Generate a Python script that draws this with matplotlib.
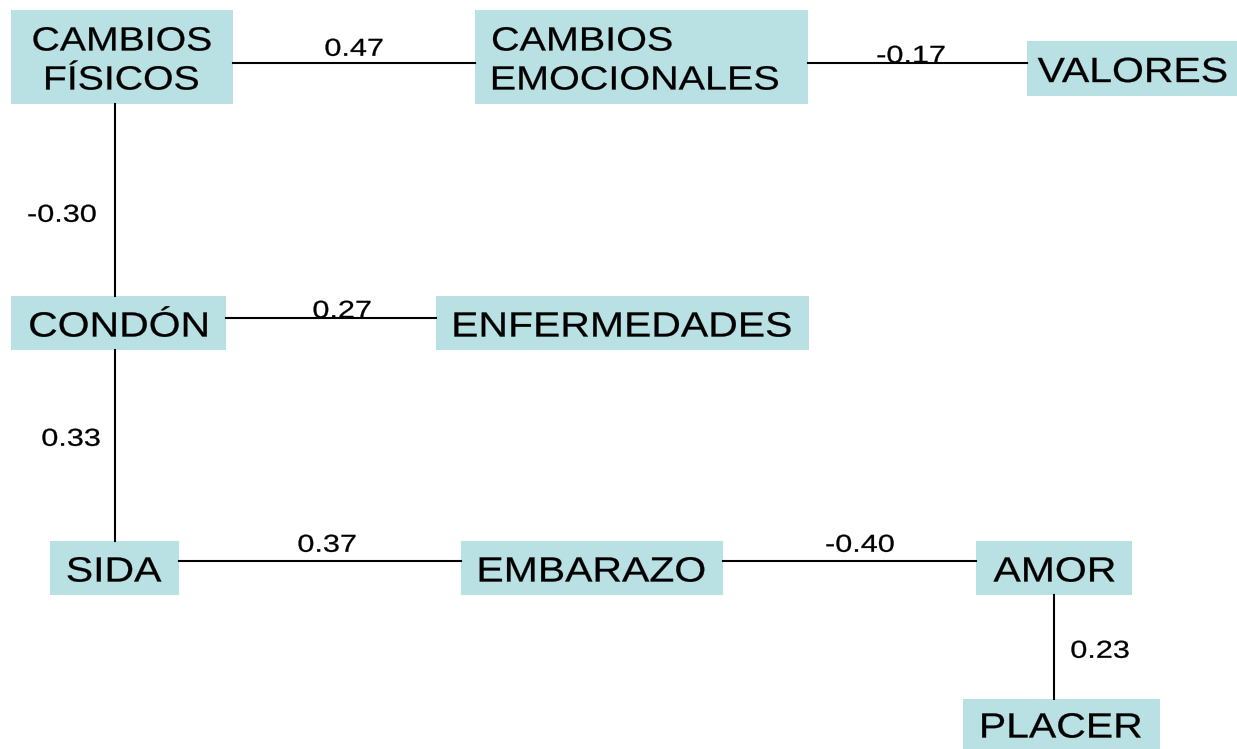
import matplotlib.pyplot as plt
from matplotlib.patches import Rectangle, PathPatch
from matplotlib.textpath import TextPath
from matplotlib.font_manager import FontProperties
from matplotlib.transforms import Affine2D

# nodes: label lines, box (x0, y0, x1, y1) in pixel space, text alignment
node_names = ['CF', 'CE', 'VAL', 'CON', 'ENF', 'SIDA', 'EMB', 'AMOR', 'PLA']
node_labels = [['CAMBIOS', 'FÍSICOS'], ['CAMBIOS', 'EMOCIONALES'], ['VALORES'],
               ['CONDÓN'], ['ENFERMEDADES'], ['SIDA'], ['EMBARAZO'], ['AMOR'],
               ['PLACER']]
node_boxes = [(11, 10, 233, 104), (475, 10, 808, 104), (1027, 41, 1237, 96),
              (11, 296, 226, 350), (436, 296, 809, 350), (50, 541, 179, 595),
              (461, 541, 723, 595), (976, 541, 1132, 595), (963, 699, 1160, 749)]
node_align = ['center', 'left', 'center', 'center', 'center', 'center',
              'center', 'center', 'center']

# edges: from, to, coefficient
edge_from = ['CF', 'CE', 'CF', 'CON', 'CON', 'SIDA', 'EMB', 'AMOR']
edge_to = ['CE', 'VAL', 'CON', 'ENF', 'SIDA', 'EMB', 'AMOR', 'PLA']
edge_values = ['0.47', '-0.17', '-0.30', '0.27', '0.33', '0.37', '-0.40', '0.23']
# where each coefficient label sits
edge_label_pos = [(354, 47), (911, 54), (62, 213), (342, 309), (71, 437),
                  (327, 543), (860, 543), (1100, 649)]
# line anchor for each edge (y for horizontal, x for vertical)
edge_line_at = [63, 63, 115, 318, 115, 561, 561, 1054]

box_color = '#b9e0e3'
font = FontProperties(family='Liberation Sans')
CAP = 0.716  # cap height / em for Arial-like fonts


def stretched_text(ax, x, y, s, em, sx, ha='center'):
  # draws text as a path, horizontally stretched; y is the middle of the caps
  tp = TextPath((0, 0), s, size=em, prop=font)
  ext = tp.get_extents()
  if ha == 'center':
    dx = x - sx * (ext.x0 + ext.x1) / 2
  else:
    dx = x - sx * ext.x0
  baseline = y + CAP * em / 2
  tr = Affine2D().scale(sx, -1).translate(dx, baseline) + ax.transData
  ax.add_patch(PathPatch(tp, transform=tr, facecolor='black',
                         edgecolor='black', linewidth=0.2, zorder=3))


fig = plt.figure(figsize=(12.37, 7.49), dpi=100)
ax = fig.add_axes([0, 0, 1, 1])
ax.set_xlim(0, 1237)
ax.set_ylim(749, 0)
ax.axis('off')

boxes = dict(zip(node_names, node_boxes))

for name, lines, (x0, y0, x1, y1), al in zip(node_names, node_labels, node_boxes, node_align):
  ax.add_patch(Rectangle((x0, y0), x1 - x0, y1 - y0, facecolor=box_color,
                         edgecolor='none', zorder=2))
  cy = (y0 + y1) / 2 + 1
  n = len(lines)
  em = 35 if n == 1 else 33.5
  step = 39
  for i, line in enumerate(lines):
    ly = cy + (i - (n - 1) / 2) * step
    if al == 'left':
      stretched_text(ax, x0 + 18, ly, line, em, 1.18, ha='left')
    else:
      stretched_text(ax, (x0 + x1) / 2, ly, line, em, 1.17)

for a, b, val, (lx, ly), at in zip(edge_from, edge_to, edge_values,
                                   edge_label_pos, edge_line_at):
  ba, bb = boxes[a], boxes[b]
  if ba[3] < bb[1]:
    # vertical link
    ax.plot([at, at], [ba[3], bb[1]], color='black', lw=1.5, zorder=4)
  else:
    ax.plot([ba[2], bb[0]], [at, at], color='black', lw=1.5, zorder=4)
  stretched_text(ax, lx, ly, val, 24.5, 1.25)

fig.savefig('out.png', dpi=100)
